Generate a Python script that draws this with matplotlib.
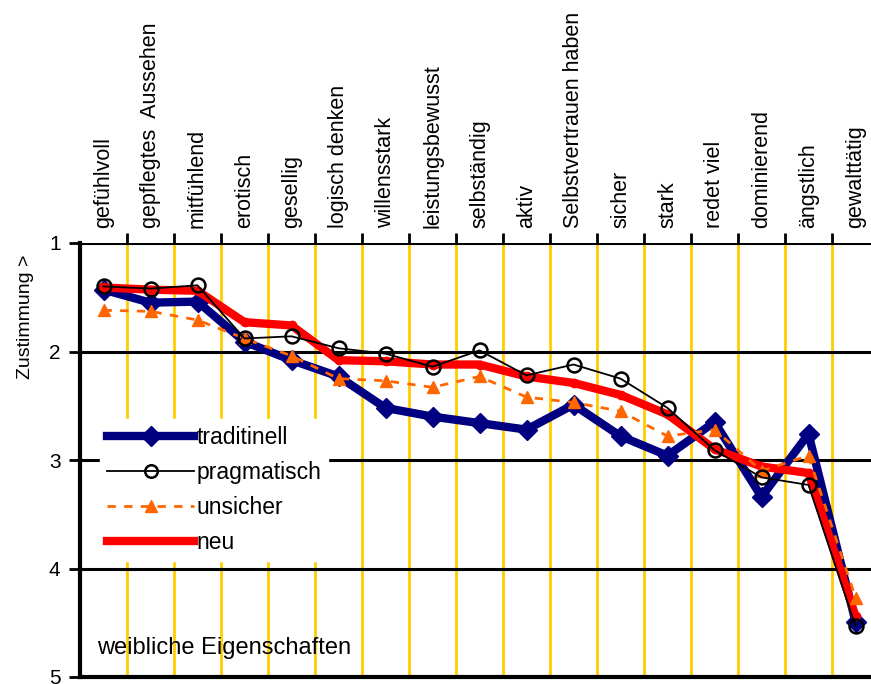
import matplotlib.pyplot as plt
from matplotlib.lines import Line2D

plt.rcParams['font.family'] = ['Liberation Sans', 'DejaVu Sans']

# Kategorien (Eigenschaften) und Mittelwerte je Typ
eigenschaften = ["gefühlvoll", "gepflegtes  Aussehen", "mitfühlend", "erotisch", "gesellig",
                 "logisch denken", "willensstark", "leistungsbewusst", "selbständig", "aktiv",
                 "Selbstvertrauen haben", "sicher", "stark", "redet viel", "dominierend",
                 "ängstlich", "gewalttätig"]
traditionell = [1.43, 1.55, 1.54, 1.91, 2.08, 2.23, 2.52, 2.60, 2.66, 2.72, 2.49,
                2.78, 2.96, 2.65, 3.34, 2.76, 4.49]
pragmatisch = [1.40, 1.42, 1.39, 1.88, 1.86, 1.97, 2.02, 2.14, 1.99, 2.22, 2.12,
               2.25, 2.52, 2.91, 3.16, 3.23, 4.53]
unsicher = [1.62, 1.63, 1.71, 1.88, 2.04, 2.25, 2.27, 2.33, 2.23, 2.42, 2.47,
            2.55, 2.78, 2.72, 3.10, 2.96, 4.27]
neu = [1.41, 1.43, 1.44, 1.73, 1.76, 2.08, 2.09, 2.12, 2.12, 2.23, 2.29,
       2.40, 2.58, 2.90, 3.06, 3.12, 4.44]

x = list(range(len(eigenschaften)))

fig = plt.figure(figsize=(8.71, 6.84), dpi=100)
ax = fig.add_axes([80 / 871, 7 / 684, 799 / 871, 434 / 684])

# gelbe senkrechte Linien zwischen den Kategorien
for i in range(len(eigenschaften) - 1):
    ax.axvline(i + 0.5, color='#FFCC00', lw=2, zorder=1)
# schwarze waagrechte Linien
for yv in [1, 2, 3, 4]:
    ax.axhline(yv, color='black', lw=2.2, zorder=1.5)

ax.plot(x, traditionell, color='#000080', lw=6, marker='D', ms=10,
        mec='#000080', zorder=3, label='traditinell')
ax.plot(x, neu, color='#FF0000', lw=6, marker='o', ms=6, zorder=4,
        solid_joinstyle='miter', label='neu')
ax.plot(x, unsicher, color='#FF6600', lw=2, ls=(0, (3, 3)), marker='^', ms=8,
        zorder=5, label='unsicher')
ax.plot(x, pragmatisch, color='black', lw=1.3, marker='o', ms=10, mfc='none',
        mew=1.8, zorder=6, label='pragmatisch')

ax.set_xlim(-0.5, len(eigenschaften) - 0.5)
ax.set_ylim(5, 1)
ax.set_yticks([1, 2, 3, 4, 5])
ax.tick_params(axis='y', length=8, width=2, labelsize=15, pad=6)

ax.set_xticks(x)
ax.set_xticklabels([])
ax.tick_params(axis='x', which='major', length=0)
ax.set_xticks([i + 0.5 for i in range(len(eigenschaften) - 1)], minor=True)
ax.tick_params(axis='x', which='minor', top=True, bottom=False, length=7, width=2,
               direction='out')

for i, name in enumerate(eigenschaften):
    ax.text(i, 1.035, name, rotation=90, ha='center', va='bottom', fontsize=15.5,
            transform=ax.get_xaxis_transform(), clip_on=False)

for side in ['top', 'right']:
    ax.spines[side].set_visible(False)
ax.spines['left'].set_linewidth(3)
ax.spines['bottom'].set_linewidth(3)

ax.set_ylabel('Zustimmung >', fontsize=14)
ax.yaxis.set_label_coords(-0.058, 0.83)

handles = [
    Line2D([], [], color='#000080', lw=6, marker='D', ms=10),
    Line2D([], [], color='black', lw=1.3, marker='o', ms=9, mfc='none', mew=1.8),
    Line2D([], [], color='#FF6600', lw=2, ls=(0, (3, 3)), marker='^', ms=8),
    Line2D([], [], color='#FF0000', lw=6),
]
leg = ax.legend(handles, ['traditinell', 'pragmatisch', 'unsicher', 'neu'],
                loc='upper left', bbox_to_anchor=(0.011, 0.62), frameon=True,
                fontsize=16.5, handlelength=3.8, handletextpad=0.1, labelspacing=0.52,
                borderpad=0.3, fancybox=False)
leg.get_frame().set_edgecolor('white')
leg.get_frame().set_facecolor('white')
leg.get_frame().set_alpha(1)
leg.set_zorder(10)

ax.text(-0.13, 4.73, 'weibliche Eigenschaften', fontsize=17, ha='left', va='center',
        zorder=7)

fig.savefig('out.png', dpi=100)
